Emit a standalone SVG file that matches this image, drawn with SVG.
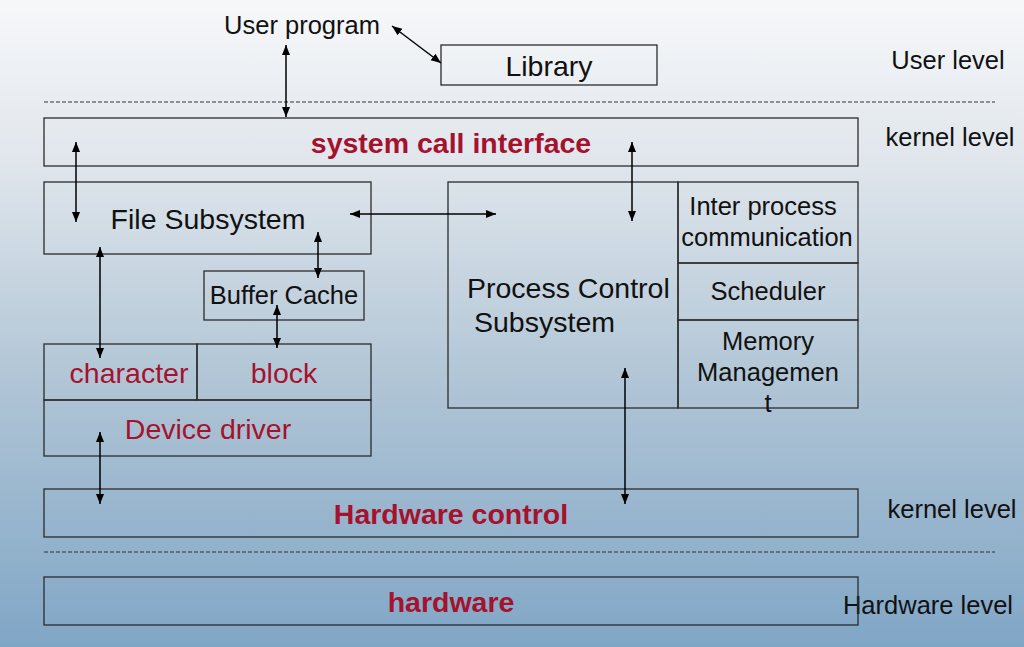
<svg xmlns="http://www.w3.org/2000/svg" width="1024" height="647" viewBox="0 0 1024 647">
<defs>
<linearGradient id="bg" x1="0" y1="0" x2="0" y2="1">
<stop offset="0" stop-color="#f7f8fa"/>
<stop offset="0.25" stop-color="#e0e6ec"/>
<stop offset="0.6" stop-color="#afc4d5"/>
<stop offset="1" stop-color="#80a6c6"/>
</linearGradient>
<marker id="ah" viewBox="0 0 10 10" refX="10" refY="5" markerWidth="10" markerHeight="10" markerUnits="userSpaceOnUse" orient="auto-start-reverse">
<path d="M0,1 L10,5 L0,9 Z" fill="#000"/>
</marker>
<style>
.box{fill:none;stroke:#2b2b2b;stroke-width:1.3}
.dash{stroke:#333;stroke-width:1;stroke-dasharray:4,2}
.t{font-family:"Liberation Sans",Arial,sans-serif;fill:#111}
.r{font-family:"Liberation Sans",Arial,sans-serif;fill:#a5122e}
.b{font-weight:bold}
.s{font-size:25.5px}
.l{font-size:28.5px}
.c line{stroke:#000;stroke-width:1.5;marker-start:url(#ah);marker-end:url(#ah)}
</style>
</defs>
<rect width="1024" height="647" fill="url(#bg)"/>
<line class="dash" x1="44" y1="102" x2="995" y2="102"/>
<line class="dash" x1="44" y1="552" x2="995" y2="552"/>
<g id="user-program"><text class="t s" x="302" y="34" text-anchor="middle">User program</text></g>
<g id="library"><rect class="box" x="441" y="45" width="216" height="40"/><text class="t l" x="549" y="76" text-anchor="middle">Library</text></g>
<g id="levels">
<text class="t s" x="948" y="69" text-anchor="middle">User level</text>
<text class="t s" x="950" y="146" text-anchor="middle">kernel level</text>
<text class="t s" x="952" y="518" text-anchor="middle">kernel level</text>
<text class="t s" x="928" y="614" text-anchor="middle">Hardware level</text>
</g>
<g id="syscall"><rect class="box" x="44" y="118" width="814" height="48"/><text class="r b l" x="451" y="153" text-anchor="middle">system call interface</text></g>
<g id="file-subsystem"><rect class="box" x="44" y="182" width="327" height="72"/><text class="t l" x="208" y="229" text-anchor="middle">File Subsystem</text></g>
<g id="process-control"><rect class="box" x="448" y="182" width="230" height="226"/><text class="t l" x="467" y="298">Process Control</text><text class="t l" x="474" y="332">Subsystem</text></g>
<g id="ipc"><rect class="box" x="678" y="182" width="180" height="81"/><text class="t s" x="763" y="215" text-anchor="middle">Inter process</text><text class="t s" x="767" y="246" text-anchor="middle">communication</text></g>
<g id="scheduler"><rect class="box" x="678" y="263" width="180" height="57"/><text class="t s" x="768" y="300" text-anchor="middle">Scheduler</text></g>
<g id="memory"><rect class="box" x="678" y="320" width="180" height="88"/><text class="t s" x="768" y="350" text-anchor="middle">Memory</text><text class="t s" x="768" y="381" text-anchor="middle">Managemen</text><text class="t s" x="768" y="412" text-anchor="middle">t</text></g>
<g id="buffer-cache"><rect class="box" x="204" y="271" width="160" height="49"/><text class="t s" x="284" y="304" text-anchor="middle">Buffer Cache</text></g>
<g id="character"><rect class="box" x="44" y="344" width="153" height="56"/><text class="r l" x="129" y="383" text-anchor="middle">character</text></g>
<g id="block"><rect class="box" x="197" y="344" width="174" height="56"/><text class="r l" x="284" y="383" text-anchor="middle">block</text></g>
<g id="device-driver"><rect class="box" x="44" y="400" width="327" height="56"/><text class="r l" x="208" y="439" text-anchor="middle">Device driver</text></g>
<g id="hardware-control"><rect class="box" x="44" y="489" width="814" height="48"/><text class="r b l" x="451" y="524" text-anchor="middle">Hardware control</text></g>
<g id="hardware"><rect class="box" x="44" y="577" width="814" height="48"/><text class="r b l" x="451" y="612" text-anchor="middle">hardware</text></g>
<g id="connectors" class="c">
<line x1="286" y1="45" x2="286" y2="117"/>
<line x1="392" y1="26" x2="441" y2="63"/>
<line x1="76" y1="142" x2="76" y2="222"/>
<line x1="350" y1="214" x2="496" y2="214"/>
<line x1="632" y1="142" x2="632" y2="221"/>
<line x1="318" y1="232" x2="318" y2="278"/>
<line x1="277" y1="305" x2="277" y2="348"/>
<line x1="100" y1="247" x2="100" y2="358"/>
<line x1="100" y1="432" x2="100" y2="504"/>
<line x1="625" y1="368" x2="625" y2="504"/>
</g>
</svg>
